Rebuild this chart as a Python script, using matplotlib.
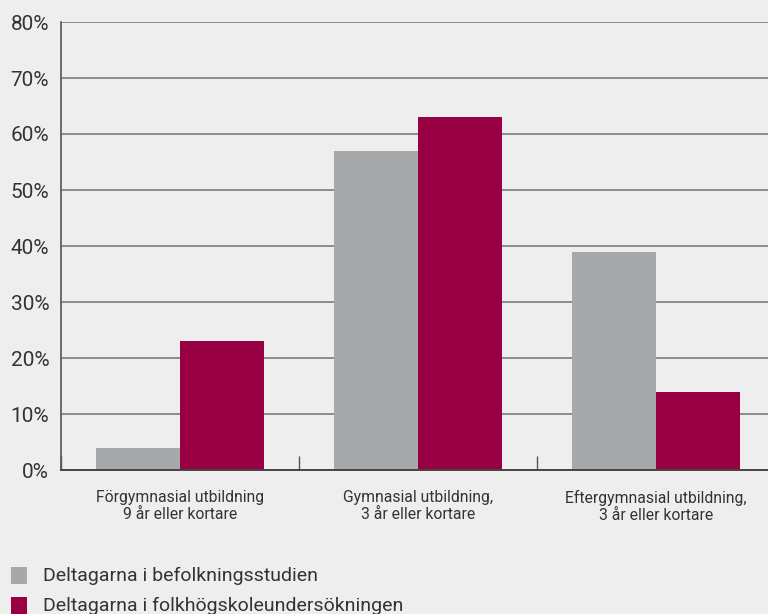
import matplotlib
matplotlib.use("Agg")
import matplotlib.pyplot as plt
import numpy as np
from matplotlib.patches import Rectangle

categories = ["Förgymnasial utbildning\n9 år eller kortare",
              "Gymnasial utbildning,\n3 år eller kortare",
              "Eftergymnasial utbildning,\n3 år eller kortare"]
befolkning = [4, 57, 39]
folkhogskola = [23, 63, 14]
series_names = ["Deltagarna i befolkningsstudien",
                "Deltagarna i folkhögskoleundersökningen"]
yticks = [0, 10, 20, 30, 40, 50, 60, 70, 80]

bg = "#eeeeee"
grey = "#a7a8aa"
crimson = "#990044"
txt = "#333333"

plt.rcParams['font.family'] = ['Roboto', 'DejaVu Sans']

fig = plt.figure(figsize=(7.68, 6.14), dpi=100, facecolor=bg)
W, H = 768, 614
left, right, top, bottom = 61, 775, 22, 470
ax = fig.add_axes([left / W, 1 - bottom / H, (right - left) / W, (bottom - top) / H])
ax.set_facecolor(bg)

x = np.arange(len(categories))
bw = 84 / 238
ax.bar(x - bw / 2, befolkning, width=bw, color=grey, zorder=3, label=series_names[0])
ax.bar(x + bw / 2, folkhogskola, width=bw, color=crimson, zorder=3, label=series_names[1])

ax.set_xlim(-0.5, len(categories) - 0.5)
ax.set_ylim(0, 80)
ax.set_yticks(yticks)
ax.set_yticklabels([f"{v}%" for v in yticks], fontsize=15, color=txt)
ax.tick_params(axis='y', length=0, pad=8.5)
for v in yticks[1:]:
    ax.axhline(v, color="#7a7a7a", lw=1.2, zorder=1)

ax.set_xticks(x)
ax.set_xticklabels(categories, fontsize=11.3, color=txt, linespacing=1.12)
ax.tick_params(axis='x', length=0, pad=14.5)
ax.set_xticks(np.arange(len(categories) + 1) - 0.5, minor=True)
ax.tick_params(axis='x', which='minor', direction='in', length=10, width=1, color="#555555")

for s in ['top', 'right']:
    ax.spines[s].set_visible(False)
ax.spines['left'].set_color("#555555")
ax.spines['left'].set_linewidth(1.2)
ax.spines['bottom'].set_color("#444444")
ax.spines['bottom'].set_linewidth(1.4)
ax.spines['bottom'].set_zorder(4)

# legend (manual, in figure pixels)
for i, (name, col) in enumerate(zip(series_names, [grey, crimson])):
    yc = 575 + 30 * i
    fig.patches.append(Rectangle((11 / W, 1 - (yc + 8.5) / H), 16 / W, 17 / H,
                                 transform=fig.transFigure, facecolor=col, edgecolor='none'))
    fig.text(43 / W, 1 - (yc + 1) / H, name, fontsize=14, color=txt, va='center', ha='left')

fig.savefig("out.png", dpi=100, facecolor=bg)
